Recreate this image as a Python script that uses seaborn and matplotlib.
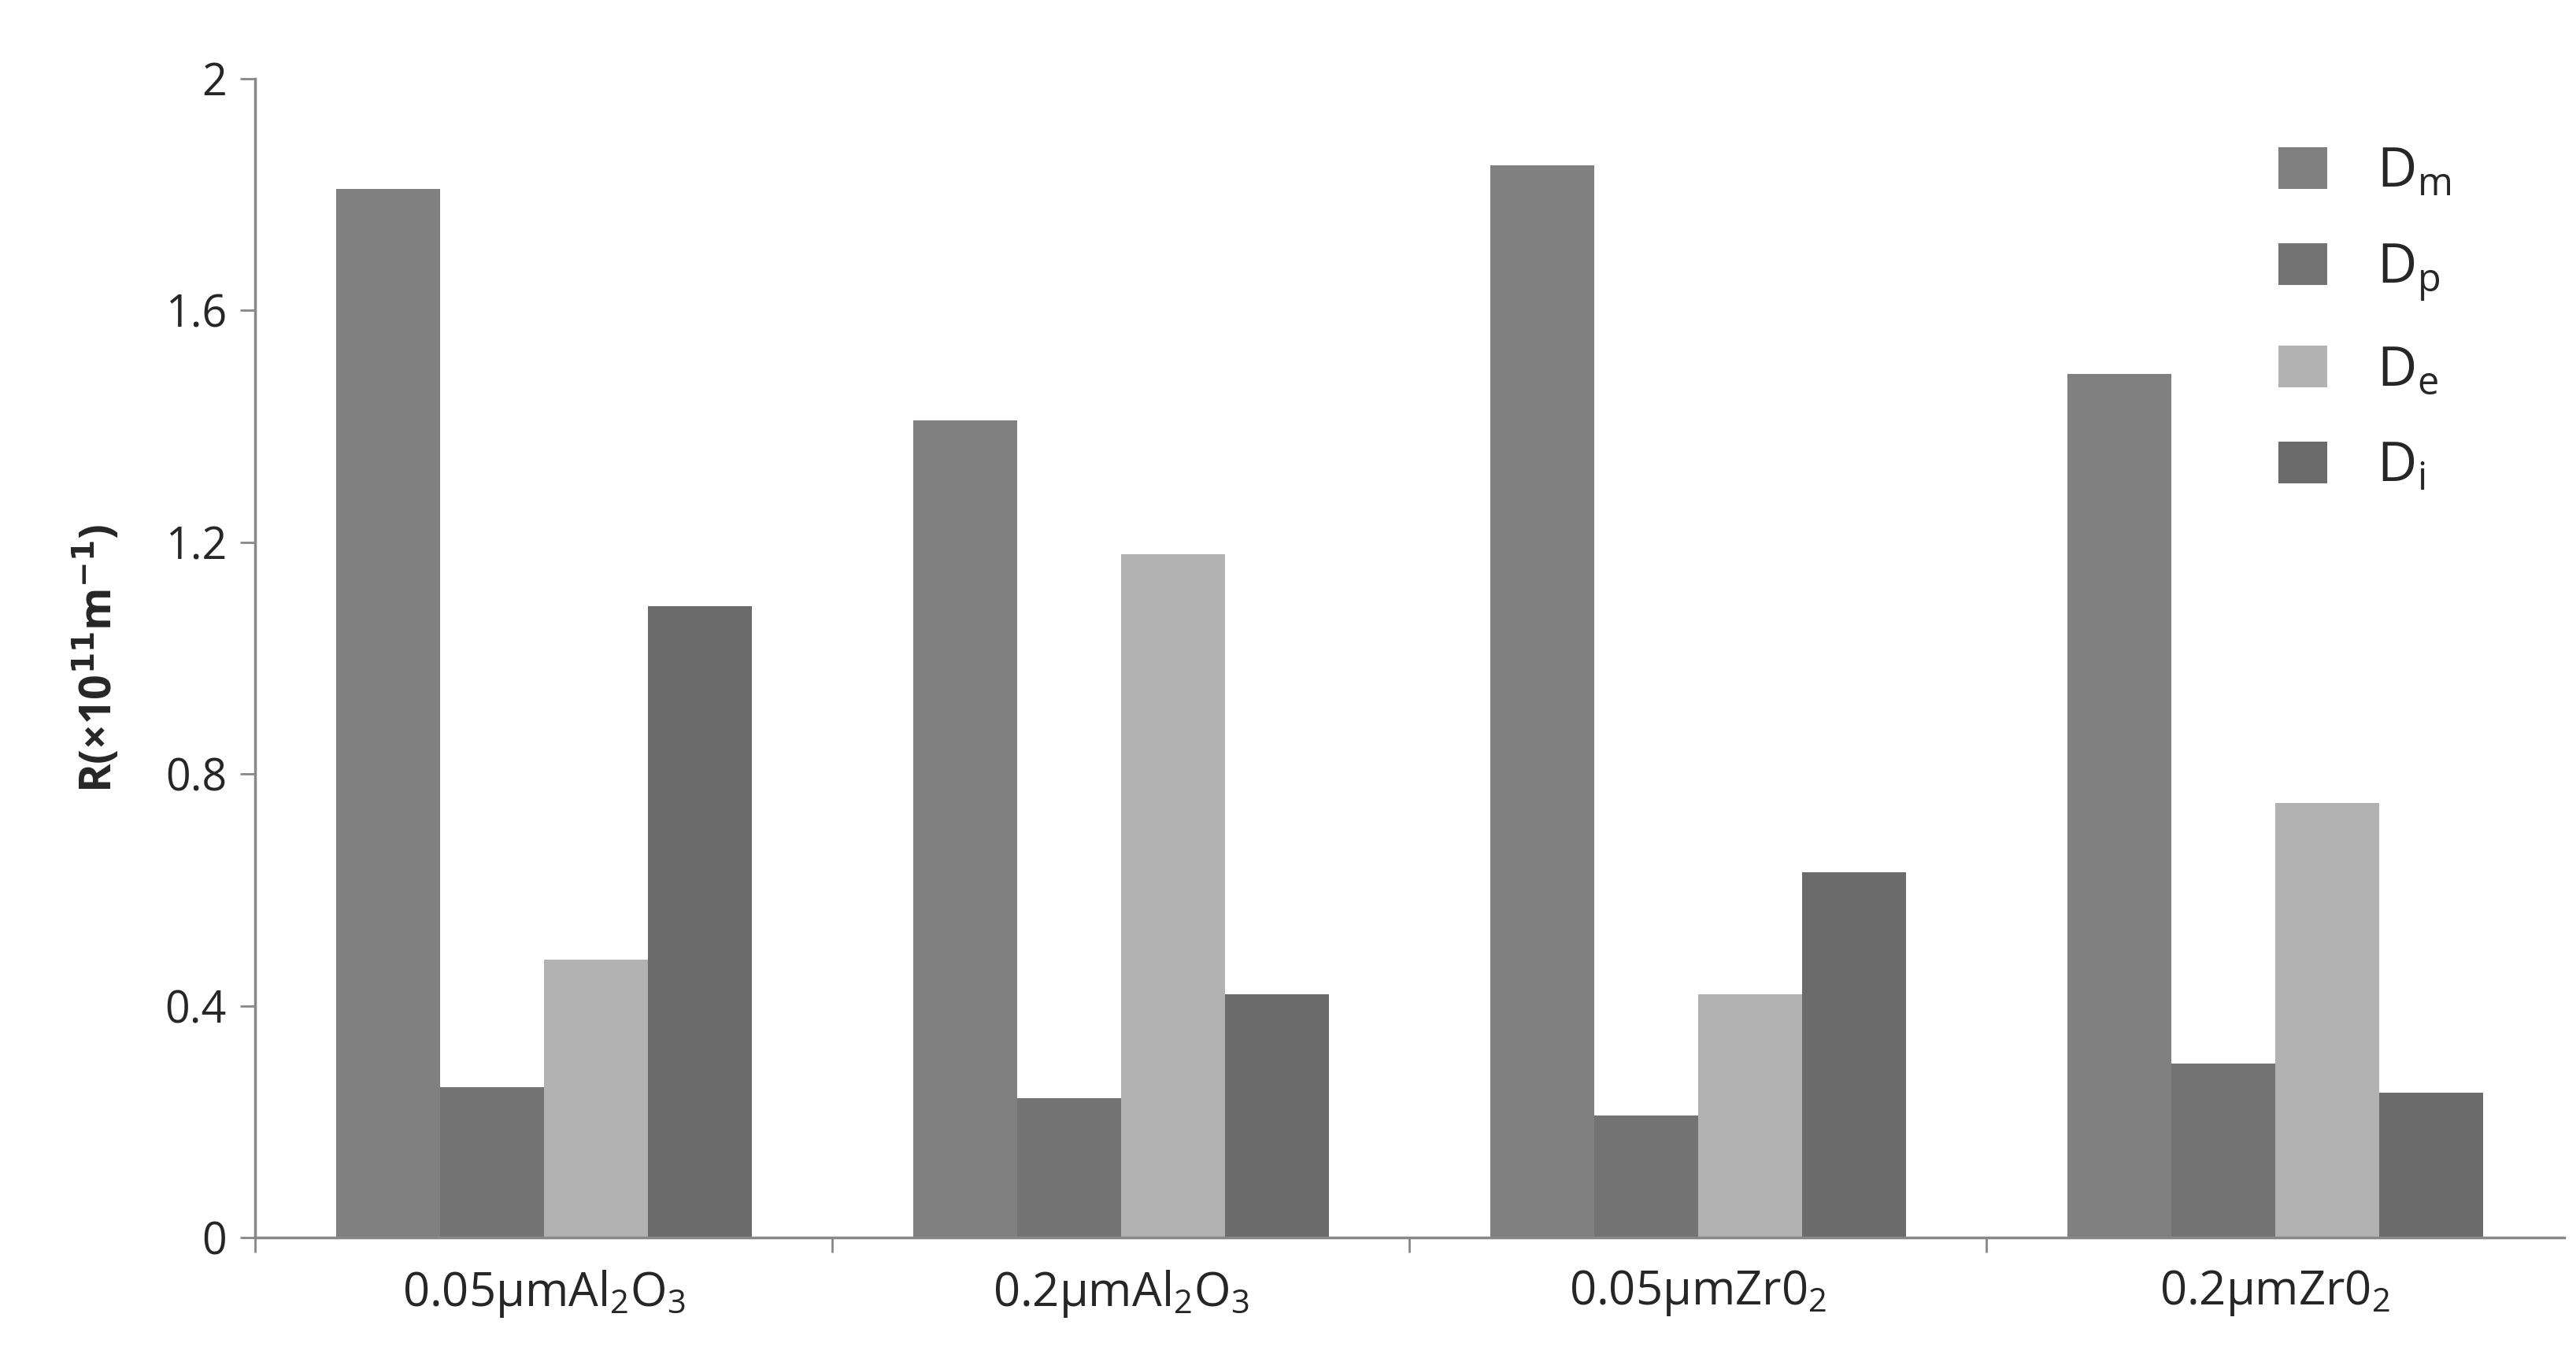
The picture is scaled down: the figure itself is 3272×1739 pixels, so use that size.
import pandas as pd
import seaborn as sns
import matplotlib.pyplot as plt
from matplotlib.ticker import FixedLocator

groups = ["0.05μmAl$_\\mathregular{2}$O$_\\mathregular{3}$", "0.2μmAl$_\\mathregular{2}$O$_\\mathregular{3}$",
          "0.05μmZr0$_\\mathregular{2}$", "0.2μmZr0$_\\mathregular{2}$"]
series = ["D$_\\mathregular{m}$", "D$_\\mathregular{p}$", "D$_\\mathregular{e}$", "D$_\\mathregular{i}$"]
d_m = [1.81, 1.41, 1.85, 1.49]
d_p = [0.26, 0.24, 0.21, 0.30]
d_e = [0.48, 1.18, 0.42, 0.75]
d_i = [1.09, 0.42, 0.63, 0.25]
colors = ["#808080", "#737373", "#b2b2b2", "#6b6b6b"]

rows = []
for name, vals in zip(series, [d_m, d_p, d_e, d_i]):
    for g, v in zip(groups, vals):
        rows.append({"group": g, "series": name, "value": v})
df = pd.DataFrame(rows)

sns.set_style("white")
plt.rcParams["font.family"] = ["Open Sans", "DejaVu Sans"]
plt.rcParams["mathtext.fontset"] = "custom"
plt.rcParams["mathtext.rm"] = "Open Sans"

fig = plt.figure(figsize=(32.73, 17.39), dpi=100)
ax = fig.add_axes([0.099, 0.096, 0.896, 0.8465])
sns.barplot(data=df, x="group", y="value", hue="series", palette=colors,
            width=0.72, gap=0, saturation=1, ax=ax, linewidth=0)

ax.set_ylim(0, 2)
ax.set_xlim(-0.5, 3.5)
ax.set_yticks([0, 0.4, 0.8, 1.2, 1.6, 2])
ax.set_yticklabels(["0", "0.4", "0.8", "1.2", "1.6", "2"])
ax.tick_params(axis="y", labelsize=40, length=14, width=2, color="#888888", left=True, pad=12)
ax.tick_params(axis="x", which="major", labelsize=43, length=0, pad=28)
ax.xaxis.set_minor_locator(FixedLocator([-0.5, 0.5, 1.5, 2.5]))
ax.tick_params(axis="x", which="minor", length=14, width=2, color="#888888", bottom=True)
for s in ["top", "right"]:
    ax.spines[s].set_visible(False)
for s in ["left", "bottom"]:
    ax.spines[s].set_color("#888888")
    ax.spines[s].set_linewidth(2.5)
ax.set_xlabel("")
ax.set_ylabel("R(×10$^{\\mathbf{11}}$m$^{\\mathbf{-1}}$)", fontsize=40, fontweight="bold", labelpad=40)

ax.legend(loc="upper left", bbox_to_anchor=(0.865, 0.93), bbox_transform=fig.transFigure,
          frameon=False, fontsize=50, handlelength=0.9, handleheight=0.8,
          labelspacing=0.75, handletextpad=0.9)

fig.savefig("out.png", dpi=100)
